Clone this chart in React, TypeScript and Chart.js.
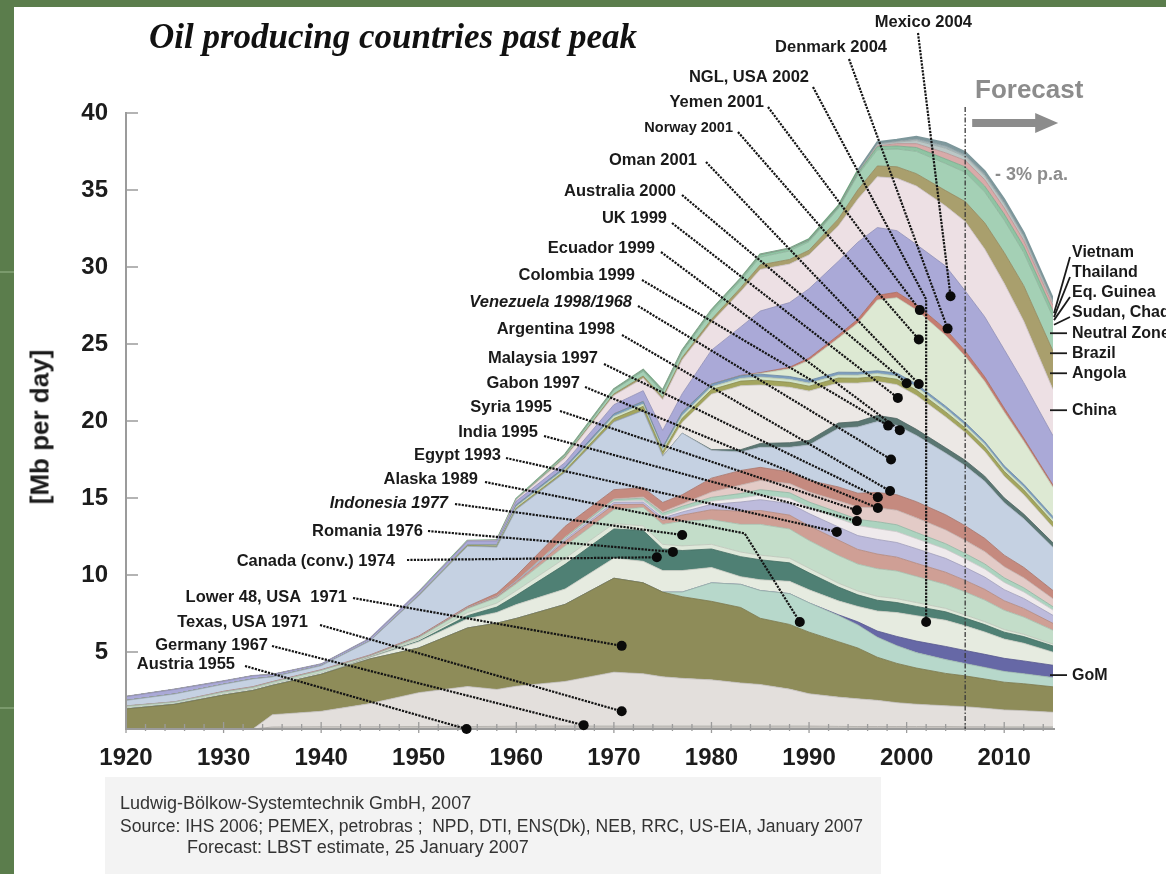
import React, { useEffect, useRef } from 'react';
import { Chart, registerables } from 'chart.js';

Chart.register(...registerables);

// ---------------- data (Mb per day, layer thickness) ----------------
const YEARS = [1920, 1925, 1930, 1933, 1935, 1940, 1945, 1950, 1955, 1958, 1960, 1965, 1970, 1973, 1975, 1977, 1980, 1983, 1985, 1988, 1990, 1993, 1995, 1997, 1999, 2001, 2004, 2006, 2008, 2010, 2012, 2015];

const AUSTRIA = [0, 0, 0, 0, 0.03, 0.03, 0.03, 0.04, 0.04, 0.04, 0.04, 0.04, 0.04, 0.04, 0.04, 0.04, 0.04, 0.04, 0.04, 0.04, 0.04, 0.04, 0.04, 0.04, 0.04, 0.04, 0.04, 0.04, 0.04, 0.04, 0.04, 0.04];
const GERMANY = [0, 0, 0, 0, 0.1, 0.12, 0.12, 0.12, 0.12, 0.13, 0.14, 0.15, 0.15, 0.15, 0.15, 0.15, 0.15, 0.15, 0.15, 0.15, 0.15, 0.13, 0.12, 0.12, 0.12, 0.12, 0.12, 0.11, 0.11, 0.1, 0.1, 0.1];
const TEXAS = [0, 0, 0, 0, 0.8, 1.0, 1.5, 2.2, 2.6, 2.4, 2.6, 2.9, 3.5, 3.4, 3.2, 3.1, 3.0, 2.8, 2.7, 2.4, 2.1, 1.9, 1.8, 1.7, 1.55, 1.45, 1.35, 1.3, 1.2, 1.1, 1.05, 0.95];
const LOWER48 = [1.3, 1.6, 2.2, 2.5, 1.9, 2.4, 2.9, 2.9, 3.8, 4.3, 4.4, 5.0, 6.1, 5.9, 5.5, 5.3, 5.1, 4.9, 4.3, 4.2, 4.0, 3.6, 3.3, 2.8, 2.55, 2.35, 2.1, 2.0, 1.9, 1.8, 1.75, 1.65];
const ALASKA = [0, 0, 0, 0, 0, 0, 0, 0, 0, 0, 0, 0, 0, 0, 0, 0.3, 1.2, 1.5, 1.8, 2.0, 1.9, 1.7, 1.5, 1.3, 1.15, 1.0, 0.9, 0.8, 0.75, 0.7, 0.65, 0.6];
const GOM = [0, 0, 0, 0, 0, 0, 0, 0, 0, 0, 0, 0, 0, 0, 0, 0, 0, 0, 0, 0, 0, 0.05, 0.2, 0.4, 0.6, 0.75, 0.85, 0.85, 0.85, 0.85, 0.83, 0.8];
const NGL = [0, 0, 0, 0, 0, 0, 0.1, 0.4, 0.6, 0.7, 0.9, 1.0, 1.3, 1.4, 1.4, 1.4, 1.0, 0.5, 0.7, 0.8, 0.85, 0.9, 1.0, 1.3, 1.55, 1.65, 1.7, 1.6, 1.45, 1.25, 1.15, 0.85];
const CANADA = [0, 0, 0, 0, 0, 0, 0, 0.05, 0.2, 0.35, 0.6, 1.6, 1.9, 2.0, 1.4, 1.3, 1.2, 1.3, 1.3, 1.2, 1.1, 0.9, 0.75, 0.7, 0.65, 0.6, 0.55, 0.5, 0.48, 0.45, 0.43, 0.4];
const ROMANIA = [0.08, 0.05, 0.1, 0.1, 0.1, 0.1, 0.05, 0.1, 0.2, 0.25, 0.3, 0.4, 0.35, 0.3, 0.3, 0.3, 0.3, 0.3, 0.3, 0.3, 0.3, 0.25, 0.25, 0.25, 0.25, 0.25, 0.22, 0.2, 0.19, 0.17, 0.15, 0.12];
const INDONESIA = [0.1, 0.1, 0.1, 0.1, 0.1, 0.15, 0.03, 0.13, 0.25, 0.35, 0.45, 0.8, 0.9, 1.2, 1.3, 1.6, 1.6, 1.8, 2.0, 1.9, 1.8, 1.8, 1.75, 1.8, 1.8, 1.7, 1.55, 1.5, 1.4, 1.25, 1.12, 0.9];
const EGYPT = [0, 0, 0, 0, 0, 0, 0.03, 0.03, 0.04, 0.06, 0.1, 0.3, 0.33, 0.2, 0.25, 0.4, 0.65, 0.85, 0.9, 0.9, 0.95, 1.0, 0.95, 0.95, 0.9, 0.85, 0.8, 0.75, 0.7, 0.62, 0.56, 0.45];
const INDIA = [0, 0, 0, 0, 0, 0, 0, 0, 0.01, 0.02, 0.05, 0.12, 0.14, 0.15, 0.17, 0.2, 0.35, 0.6, 0.7, 0.75, 0.8, 0.85, 0.9, 0.95, 0.95, 0.95, 0.9, 0.85, 0.8, 0.72, 0.65, 0.52];
const SYRIA = [0, 0, 0, 0, 0, 0, 0, 0, 0, 0, 0, 0.05, 0.08, 0.1, 0.1, 0.15, 0.2, 0.25, 0.3, 0.35, 0.4, 0.55, 0.65, 0.7, 0.7, 0.65, 0.6, 0.55, 0.52, 0.47, 0.42, 0.34];
const GABON = [0, 0, 0, 0, 0, 0, 0, 0, 0, 0.01, 0.02, 0.08, 0.1, 0.15, 0.2, 0.22, 0.25, 0.3, 0.35, 0.35, 0.35, 0.4, 0.4, 0.45, 0.45, 0.4, 0.35, 0.35, 0.33, 0.3, 0.27, 0.22];
const MALAYSIA = [0, 0, 0, 0, 0, 0, 0, 0, 0, 0, 0, 0.02, 0.05, 0.08, 0.1, 0.15, 0.35, 0.55, 0.6, 0.6, 0.65, 0.75, 0.8, 0.9, 0.95, 0.95, 0.9, 0.85, 0.8, 0.72, 0.65, 0.52];
const ARGENTINA = [0.02, 0.02, 0.05, 0.05, 0.05, 0.05, 0.05, 0.07, 0.1, 0.2, 0.35, 0.7, 0.6, 0.6, 0.6, 0.6, 0.9, 0.95, 0.85, 0.75, 0.75, 0.9, 0.9, 1.0, 1.0, 1.05, 0.98, 0.95, 0.86, 0.75, 0.68, 0.53];
const VENEZUELA = [0.35, 0.5, 0.45, 0.5, 0.3, 0.25, 0.9, 2.6, 3.9, 3.0, 4.3, 3.5, 4.4, 5.0, 3.0, 4.0, 1.8, 1.2, 1.3, 1.6, 2.3, 3.8, 4.3, 4.6, 4.5, 4.3, 4.0, 3.9, 3.7, 3.4, 3.15, 2.8];
const COLOMBIA = [0, 0, 0, 0, 0, 0, 0, 0, 0, 0, 0, 0, 0, 0, 0, 0, 0.05, 0.15, 0.25, 0.3, 0.3, 0.35, 0.35, 0.4, 0.45, 0.4, 0.35, 0.35, 0.34, 0.32, 0.31, 0.3];
const UK = [0, 0, 0, 0, 0, 0, 0, 0, 0, 0, 0, 0, 0, 0, 0.03, 0.7, 3.6, 4.15, 3.8, 3.6, 3.2, 2.6, 2.5, 2.2, 2.2, 2.2, 2.0, 1.8, 1.6, 1.4, 1.25, 1.0];
const ECUADOR = [0, 0, 0, 0, 0, 0, 0, 0.02, 0.05, 0.07, 0.1, 0.12, 0.22, 0.28, 0.25, 0.27, 0.3, 0.3, 0.32, 0.32, 0.32, 0.32, 0.32, 0.33, 0.35, 0.35, 0.33, 0.3, 0.3, 0.32, 0.32, 0.33];
const OMAN = [0, 0, 0, 0, 0, 0, 0, 0.02, 0.03, 0.05, 0.1, 0.1, 0.15, 0.15, 0.15, 0.18, 0.18, 0.18, 0.2, 0.2, 0.2, 0.2, 0.2, 0.2, 0.22, 0.22, 0.2, 0.18, 0.18, 0.18, 0.18, 0.18];
const AUSTRALIA = [0, 0, 0, 0, 0, 0, 0, 0.01, 0.02, 0.03, 0.1, 0.13, 0.15, 0.17, 0.15, 0.2, 0.17, 0.17, 0.18, 0.18, 0.18, 0.18, 0.18, 0.17, 0.18, 0.18, 0.17, 0.17, 0.17, 0.18, 0.18, 0.19];
const NORWAY = [0, 0, 0, 0, 0, 0, 0, 0, 0, 0, 0, 0, 0, 0, 0, 0, 0, 0, 0.05, 0.5, 1.3, 2.2, 3.2, 4.6, 4.9, 4.8, 4.6, 4.3, 3.9, 3.5, 2.8, 1.9];
const DENMARK = [0, 0, 0, 0, 0, 0, 0, 0, 0, 0, 0, 0, 0, 0, 0, 0.01, 0.01, 0.02, 0.05, 0.1, 0.15, 0.2, 0.25, 0.3, 0.35, 0.35, 0.4, 0.35, 0.3, 0.25, 0.2, 0.15];
const MEXICO = [0.25, 0.3, 0.2, 0.2, 0.15, 0.1, 0.15, 0.2, 0.25, 0.25, 0.25, 0.3, 0.6, 0.7, 1.1, 1.2, 2.2, 3.15, 4.0, 4.2, 4.5, 4.8, 5.0, 4.4, 4.0, 3.9, 4.1, 3.9, 3.9, 3.8, 3.6, 3.2];
const CHINA = [0, 0, 0, 0, 0, 0, 0, 0, 0.01, 0.03, 0.1, 0.3, 0.6, 0.8, 2.0, 2.2, 1.8, 2.3, 2.7, 2.5, 2.2, 2.3, 2.8, 3.3, 3.4, 3.8, 3.9, 4.5, 4.4, 4.3, 4.0, 3.0];
const ANGOLA = [0, 0, 0, 0, 0, 0, 0, 0, 0, 0, 0, 0.05, 0.1, 0.15, 0.15, 0.15, 0.2, 0.25, 0.3, 0.3, 0.3, 0.45, 0.6, 0.7, 0.75, 0.8, 1.0, 1.3, 1.7, 2.0, 2.3, 2.5];
const BRAZIL = [0, 0, 0, 0, 0, 0, 0, 0, 0, 0.02, 0.05, 0.12, 0.25, 0.3, 0.35, 0.35, 0.45, 0.45, 0.5, 0.55, 0.55, 0.65, 0.95, 1.05, 1.15, 1.45, 1.75, 1.9, 2.0, 2.1, 2.15, 2.2];
const NEUTRAL_ZONE = [0, 0, 0, 0, 0, 0, 0, 0, 0, 0, 0, 0.05, 0.05, 0.1, 0.1, 0.1, 0.15, 0.15, 0.15, 0.15, 0.1, 0.1, 0.12, 0.2, 0.2, 0.25, 0.3, 0.35, 0.38, 0.4, 0.4, 0.4];
const SUDAN_CHAD = [0, 0, 0, 0, 0, 0, 0, 0, 0, 0, 0, 0, 0, 0, 0, 0, 0, 0, 0, 0, 0, 0, 0, 0.05, 0.15, 0.25, 0.4, 0.42, 0.42, 0.4, 0.38, 0.35];
const EQ_GUINEA = [0, 0, 0, 0, 0, 0, 0, 0, 0, 0, 0, 0, 0, 0, 0, 0, 0, 0, 0, 0, 0, 0, 0.05, 0.1, 0.1, 0.2, 0.3, 0.25, 0.25, 0.25, 0.22, 0.2];
const THAILAND = [0, 0, 0, 0, 0, 0, 0, 0, 0, 0, 0, 0, 0, 0, 0, 0, 0, 0, 0.02, 0.02, 0.03, 0.04, 0.05, 0.05, 0.05, 0.1, 0.15, 0.1, 0.1, 0.1, 0.1, 0.1];
const VIETNAM = [0, 0, 0, 0, 0, 0, 0, 0, 0, 0, 0, 0, 0, 0, 0, 0, 0, 0, 0, 0, 0.03, 0.05, 0.08, 0.1, 0.1, 0.15, 0.2, 0.2, 0.2, 0.2, 0.18, 0.15];

const X_TICKS = [1920, 1930, 1940, 1950, 1960, 1970, 1980, 1990, 2000, 2010];
const Y_TICKS = [5, 10, 15, 20, 25, 30, 35, 40];
const FORECAST_YEAR = 2006;

// peak annotations (dot position in data units)
const PEAK_LABELS = ['Mexico 2004', 'Denmark 2004', 'NGL, USA 2002', 'Yemen 2001', 'Norway 2001', 'Oman 2001', 'Australia 2000', 'UK 1999', 'Ecuador 1999', 'Colombia 1999', 'Venezuela 1998/1968', 'Argentina 1998', 'Malaysia 1997', 'Gabon 1997', 'Syria 1995', 'India 1995', 'Egypt 1993', 'Alaska 1989', 'Indonesia 1977', 'Romania 1976', 'Canada (conv.) 1974', 'Lower 48, USA  1971', 'Texas, USA 1971', 'Germany 1967', 'Austria 1955'];
const PEAK_DOT_YEARS = [2004.5, 2004.2, 2002, 2001.35, 2001.25, 2001.25, 2000, 1999.1, 1999.3, 1998.1, 1998.4, 1998.3, 1997.05, 1997.05, 1994.9, 1994.9, 1992.85, 1989.05, 1977, 1976.05, 1974.4, 1970.8, 1970.8, 1966.9, 1954.9];
const PEAK_DOT_VALUES = [28.1, 26.0, 6.95, 27.2, 25.3, 22.4, 22.45, 21.5, 19.4, 19.7, 17.5, 15.45, 15.05, 14.35, 14.2, 13.5, 12.8, 6.95, 12.6, 11.5, 11.15, 5.4, 1.15, 0.25, 0];

const SIDE_LABELS = ['Vietnam', 'Thailand', 'Eq. Guinea', 'Sudan, Chad', 'Neutral Zone', 'Brazil', 'Angola', 'China', 'GoM'];
const SIDE_VALUES = [27.0, 26.75, 26.55, 26.25, 25.7, 24.4, 23.1, 20.7, 3.5];

// ---------------- layout / style (not data) ----------------
// [text right x, text center y, font px, italic, leader start x, leader start y]
const LABEL_BOXES: [number, number, number, boolean, number, number][] = [
  [972, 22, 16.5, false, 918, 33],
  [887, 47, 16.5, false, 849, 59],
  [809, 77, 16.5, false, 813, 87],
  [764, 102, 16.5, false, 768, 107],
  [733, 128, 14.5, false, 738, 132],
  [697, 160, 16.5, false, 706, 162],
  [676, 191, 16.5, false, 682, 195],
  [667, 218, 16.5, false, 672, 223],
  [655, 248, 16.5, false, 661, 252],
  [635, 275, 16.5, false, 642, 280],
  [632, 302, 16.5, true, 638, 306],
  [615, 329, 16.5, false, 622, 335],
  [598, 358, 16.5, false, 604, 364],
  [580, 383, 16.5, false, 585, 387],
  [552, 407, 16.5, false, 560, 411],
  [538, 432, 16.5, false, 544, 436],
  [501, 455, 16.5, false, 506, 458],
  [478, 479, 16.5, false, 485, 482],
  [448, 503, 16.5, true, 455, 504],
  [423, 531, 16.5, false, 428, 531],
  [395, 561, 16.5, false, 407, 560],
  [347, 597, 16.5, false, 353, 598],
  [308, 622, 16.5, false, 320, 625],
  [268, 645, 16.5, false, 272, 646],
  [235, 664, 16.5, false, 245, 666],
];
// leader line bends, in data units
const BENDS: Record<number, [number, number]> = { 2: [2002, 27.9], 17: [1983.4, 12.7] };
const SIDE_TEXT_Y = [253, 273, 293, 313];

const LAYERS = [
  { label: 'Austria', values: AUSTRIA, color: '#a9a9a9' },
  { label: 'Germany', values: GERMANY, color: '#cdc9c5' },
  { label: 'Texas, USA', values: TEXAS, color: '#e3dfdc' },
  { label: 'Lower 48, USA', values: LOWER48, color: '#8e8c59' },
  { label: 'Alaska', values: ALASKA, color: '#b7d8cb' },
  { label: 'GoM', values: GOM, color: '#6668a6' },
  { label: 'NGL, USA', values: NGL, color: '#e6ebe0' },
  { label: 'Canada (conv.)', values: CANADA, color: '#4f8074' },
  { label: 'Romania', values: ROMANIA, color: '#dfe8da' },
  { label: 'Indonesia', values: INDONESIA, color: '#c3ddc9' },
  { label: 'Egypt', values: EGYPT, color: '#cf9f95' },
  { label: 'India', values: INDIA, color: '#bdbbdc' },
  { label: 'Syria', values: SYRIA, color: '#efeaec' },
  { label: 'Gabon', values: GABON, color: '#acd3bf' },
  { label: 'Malaysia', values: MALAYSIA, color: '#e3cbc7' },
  { label: 'Argentina', values: ARGENTINA, color: '#c58a7f' },
  { label: 'Venezuela', values: VENEZUELA, color: '#c5d1e2' },
  { label: 'Colombia', values: COLOMBIA, color: '#5a7672' },
  { label: 'UK', values: UK, color: '#ece8e5' },
  { label: 'Ecuador', values: ECUADOR, color: '#a3a55e' },
  { label: 'Oman', values: OMAN, color: '#d2e4cb' },
  { label: 'Australia', values: AUSTRALIA, color: '#7d9ebf' },
  { label: 'Norway', values: NORWAY, color: '#dde9d3' },
  { label: 'Denmark', values: DENMARK, color: '#c57c70' },
  { label: 'Mexico', values: MEXICO, color: '#aaa9d7' },
  { label: 'China', values: CHINA, color: '#ede0e4' },
  { label: 'Angola', values: ANGOLA, color: '#a99f6d' },
  { label: 'Brazil', values: BRAZIL, color: '#a4d0b5' },
  { label: 'Neutral Zone', values: NEUTRAL_ZONE, color: '#8fc4a3' },
  { label: 'Sudan, Chad', values: SUDAN_CHAD, color: '#d9aaa9' },
  { label: 'Eq. Guinea', values: EQ_GUINEA, color: '#bac7c6' },
  { label: 'Thailand', values: THAILAND, color: '#a0b4b8' },
  { label: 'Vietnam', values: VIETNAM, color: '#809a9f' },
];

const SANS = '"Liberation Sans", Arial, Helvetica, sans-serif';

function shade(hex: string, f: number) {
  const n = parseInt(hex.slice(1), 16);
  const r = Math.round(((n >> 16) & 255) * f);
  const g = Math.round(((n >> 8) & 255) * f);
  const b = Math.round((n & 255) * f);
  return `rgb(${r},${g},${b})`;
}

function topOutline(x: number) {
  if (x < 1948) return '#9c9bc3';
  if (x < 1994) return '#6fa77e';
  return '#7d979b';
}

const overlay = {
  id: 'overlay',
  afterDraw(chart: any) {
    const { ctx, chartArea: ca } = chart;
    const xs = chart.scales.x;
    const ys = chart.scales.y;
    ctx.save();

    // axes
    ctx.setLineDash([]);
    ctx.strokeStyle = '#9b9b9b';
    ctx.lineWidth = 2;
    ctx.beginPath();
    ctx.moveTo(ca.left, ca.top - 1);
    ctx.lineTo(ca.left, ca.bottom);
    ctx.lineTo(ca.right + 2, ca.bottom);
    ctx.stroke();
    ctx.lineWidth = 1.5;
    for (const v of Y_TICKS) {
      const py = ys.getPixelForValue(v);
      ctx.beginPath();
      ctx.moveTo(ca.left, py);
      ctx.lineTo(ca.left + 12, py);
      ctx.stroke();
    }
    ctx.lineWidth = 1.3;
    for (let yr = 1920; yr <= 2014; yr += 2) {
      const px = xs.getPixelForValue(yr);
      const major = yr % 10 === 0;
      ctx.beginPath();
      ctx.moveTo(px, ca.bottom - (major ? 7 : 5));
      ctx.lineTo(px, ca.bottom + (major ? 4 : 2));
      ctx.stroke();
    }

    // forecast divider
    const fx = xs.getPixelForValue(FORECAST_YEAR);
    ctx.strokeStyle = '#3a3a3a';
    ctx.lineWidth = 1.3;
    ctx.setLineDash([5, 2, 1.5, 2]);
    ctx.beginPath();
    ctx.moveTo(fx, ca.top - 6);
    ctx.lineTo(fx, ca.bottom);
    ctx.stroke();

    // forecast arrow
    ctx.setLineDash([]);
    ctx.fillStyle = '#8c8c8c';
    ctx.fillRect(fx + 7, 119, 64, 8);
    ctx.beginPath();
    ctx.moveTo(fx + 70, 113);
    ctx.lineTo(fx + 93, 123);
    ctx.lineTo(fx + 70, 133);
    ctx.closePath();
    ctx.fill();

    // peak leader lines and dots
    ctx.strokeStyle = '#141414';
    ctx.lineWidth = 2.2;
    ctx.setLineDash([2.2, 1.2]);
    PEAK_LABELS.forEach((_, i) => {
      const b = LABEL_BOXES[i];
      const dx = xs.getPixelForValue(PEAK_DOT_YEARS[i]);
      const dy = ys.getPixelForValue(PEAK_DOT_VALUES[i]);
      ctx.beginPath();
      ctx.moveTo(b[4], b[5]);
      const bend = BENDS[i];
      if (bend) ctx.lineTo(xs.getPixelForValue(bend[0]), ys.getPixelForValue(bend[1]));
      ctx.lineTo(dx, dy);
      ctx.stroke();
    });
    ctx.setLineDash([]);
    ctx.fillStyle = '#0a0a0a';
    PEAK_LABELS.forEach((_, i) => {
      const dx = xs.getPixelForValue(PEAK_DOT_YEARS[i]);
      const dy = ys.getPixelForValue(PEAK_DOT_VALUES[i]);
      ctx.beginPath();
      ctx.arc(dx, dy, 5, 0, Math.PI * 2);
      ctx.fill();
    });

    // peak labels
    ctx.fillStyle = '#1a1a1a';
    ctx.textAlign = 'right';
    ctx.textBaseline = 'middle';
    PEAK_LABELS.forEach((t, i) => {
      const b = LABEL_BOXES[i];
      ctx.font = `${b[3] ? 'italic ' : ''}bold ${b[2]}px ${SANS}`;
      ctx.fillText(t, b[0], b[1]);
    });

    // right side labels
    const ex = xs.getPixelForValue(2015);
    ctx.strokeStyle = '#1a1a1a';
    ctx.lineWidth = 1.8;
    ctx.textAlign = 'left';
    ctx.font = `bold 16px ${SANS}`;
    SIDE_LABELS.forEach((t, i) => {
      const vy = ys.getPixelForValue(SIDE_VALUES[i]);
      if (i < SIDE_TEXT_Y.length) {
        const ty = SIDE_TEXT_Y[i];
        ctx.beginPath();
        ctx.moveTo(ex + 1, vy);
        ctx.lineTo(ex + 17, ty + 4);
        ctx.stroke();
        ctx.fillText(t, ex + 19, ty);
      } else {
        ctx.beginPath();
        ctx.moveTo(ex - 3, vy);
        ctx.lineTo(ex + 14, vy);
        ctx.stroke();
        ctx.fillText(t, ex + 19, vy);
      }
    });
    ctx.restore();
  },
};

export default function App() {
  const ref = useRef<HTMLCanvasElement>(null);

  useEffect(() => {
    const canvas = ref.current;
    if (!canvas) return;
    const last = LAYERS.length - 1;
    const datasets = LAYERS.map((l, i) => ({
      label: l.label,
      data: YEARS.map((yr, k) => ({ x: yr, y: l.values[k] })),
      backgroundColor: l.color,
      borderColor: i === last ? '#7d979b' : shade(l.color, 0.84),
      borderWidth: i === last ? 2 : 0.8,
      fill: i === 0 ? 'origin' : '-1',
      pointRadius: 0,
      pointHoverRadius: 0,
      tension: 0,
      segment: i === last ? { borderColor: (c: any) => topOutline(c.p0.parsed.x) } : undefined,
    }));

    const chart = new Chart(canvas, {
      type: 'line',
      data: { datasets } as any,
      options: {
        responsive: false,
        animation: false,
        events: [],
        layout: { padding: { top: 113, right: 113, left: 0, bottom: 0 } },
        plugins: { legend: { display: false }, tooltip: { enabled: false } },
        scales: {
          x: {
            type: 'linear',
            min: 1920,
            max: 2015,
            grid: { display: false, drawTicks: false, tickLength: 0 },
            border: { display: false },
            afterBuildTicks: (s: any) => {
              s.ticks = X_TICKS.map((v) => ({ value: v }));
            },
            afterFit: (s: any) => {
              s.height = 145;
            },
            ticks: {
              padding: 15,
              autoSkip: false,
              maxRotation: 0,
              color: '#1c1c1c',
              font: { family: SANS, size: 24, weight: 'bold' },
              callback: (v: any) => String(v),
            },
          },
          y: {
            stacked: true,
            min: 0,
            max: 40,
            grid: { display: false, drawTicks: false, tickLength: 0 },
            border: { display: false },
            afterFit: (s: any) => {
              s.width = 126;
            },
            ticks: {
              stepSize: 5,
              padding: 18,
              color: '#1c1c1c',
              font: { family: SANS, size: 24, weight: 'bold' },
              callback: (v: any) => (v === 0 ? '' : String(v)),
            },
          },
        },
      } as any,
      plugins: [overlay],
    });
    return () => chart.destroy();
  }, []);

  const abs: React.CSSProperties = { position: 'absolute', whiteSpace: 'pre' };

  return (
    <div style={{ position: 'absolute', left: 0, top: 0, width: 1166, height: 874, background: '#5b7d4c', overflow: 'hidden' }}>
      <div style={{ ...abs, left: 0, top: 271, width: 14, height: 2, background: '#7a9a6c' }} />
      <div style={{ ...abs, left: 0, top: 707, width: 14, height: 2, background: '#7a9a6c' }} />
      <div style={{ ...abs, left: 14, top: 7, right: 0, bottom: 0, background: '#ffffff' }} />
      <div style={{ ...abs, left: 105, top: 777, width: 776, height: 97, background: '#f3f3f3' }} />
      <canvas ref={ref} width={1166} height={874} style={{ position: 'absolute', left: 0, top: 0, width: 1166, height: 874 }} />
      <div style={{ ...abs, left: 149, top: 17, lineHeight: '42px', font: 'italic bold 35px "Liberation Serif", "Times New Roman", serif', color: '#111' }}>
        Oil producing countries past peak
      </div>
      <div style={{ ...abs, left: 40, top: 427, transform: 'translate(-50%, -50%) rotate(-90deg)', font: `bold 26px ${SANS}`, color: '#1a1a1a' }}>
        [Mb per day]
      </div>
      <div style={{ ...abs, left: 975, top: 74, lineHeight: '32px', font: `bold 26px ${SANS}`, color: '#8c8c8c' }}>Forecast</div>
      <div style={{ ...abs, left: 995, top: 164, lineHeight: '22px', font: `bold 18px ${SANS}`, color: '#8c8c8c' }}>- 3% p.a.</div>
      <div style={{ ...abs, left: 120, top: 793, lineHeight: '22px', font: `18px ${SANS}`, color: '#333' }}>Ludwig-Bölkow-Systemtechnik GmbH, 2007</div>
      <div style={{ ...abs, left: 120, top: 816, lineHeight: '22px', font: `17.5px ${SANS}`, color: '#333' }}>Source: IHS 2006; PEMEX, petrobras ;  NPD, DTI, ENS(Dk), NEB, RRC, US-EIA, January 2007</div>
      <div style={{ ...abs, left: 187, top: 837, lineHeight: '22px', font: `18px ${SANS}`, color: '#333' }}>Forecast: LBST estimate, 25 January 2007</div>
    </div>
  );
}
